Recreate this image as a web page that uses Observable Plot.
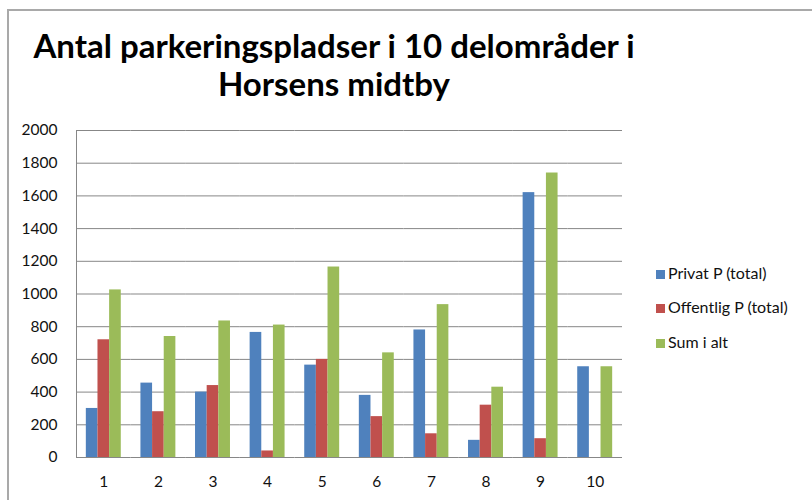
<!DOCTYPE html>
<html>
<head>
<meta charset="utf-8">
<script src="https://cdn.jsdelivr.net/npm/d3@7"></script>
<script src="https://cdn.jsdelivr.net/npm/@observablehq/plot@0.6"></script>
<style>
  html, body { margin: 0; padding: 0; background: #fff; }
  #wrap { position: relative; width: 812px; height: 500px; overflow: hidden; font-family: Lato, "Open Sans", sans-serif; }
  #frame { position: absolute; left: 7px; top: 9px; width: 900px; height: 600px; border: 2px solid #a9a9a9; box-sizing: border-box; }
  #title { position: absolute; left: 0; width: 668px; top: 26px; text-align: center; font-weight: bold; font-size: 33px; line-height: 38px; color: #000; }
  #chart { position: absolute; left: 0; top: 110px; }
  #legend { position: absolute; left: 656px; top: 0; }
  .item { position: absolute; left: 0; white-space: nowrap; font-size: 16px; color: #111; height: 20px; line-height: 20px; }
  .sw { display: inline-block; width: 9px; height: 9px; margin-right: 3px; vertical-align: 0px; }
</style>
</head>
<body>
<div id="wrap">
  <div id="frame"></div>
  <div id="title">Antal parkeringspladser i 10 delområder i<br>Horsens midtby</div>
  <div id="chart"></div>
  <div id="legend"></div>
</div>
<script>
const areas = ["1", "2", "3", "4", "5", "6", "7", "8", "9", "10"];
const privat = [300, 455, 400, 765, 565, 380, 780, 105, 1620, 555];
const offentlig = [720, 280, 440, 40, 600, 250, 145, 320, 115, 0];
const sumIAlt = [1025, 740, 835, 810, 1165, 640, 935, 430, 1740, 555];
const seriesNames = ["Privat P (total)", "Offentlig P (total)", "Sum i alt"];
const seriesColors = ["#4F81BD", "#C0504D", "#9BBB59"];
const yTicks = [0, 200, 400, 600, 800, 1000, 1200, 1400, 1600, 1800, 2000];

const seriesValues = [privat, offentlig, sumIAlt];
const data = areas.flatMap((a, i) => seriesNames.map((s, j) => ({area: a, series: s, value: seriesValues[j][i]})));

const chart = Plot.plot({
  width: 812,
  height: 390,
  marginTop: 20,
  marginBottom: 43,
  marginLeft: 76,
  marginRight: 190,
  style: {fontFamily: "Lato, 'Open Sans', sans-serif", fontSize: "15.5px", color: "#111", background: "transparent"},
  fx: {domain: areas, padding: 0, round: false, label: null, axis: "bottom", tickSize: 0, tickPadding: 18},
  x: {domain: seriesNames, axis: null, round: false, paddingInner: 0, paddingOuter: 0.84375},
  y: {domain: [0, 2000], axis: null},
  color: {domain: seriesNames, range: seriesColors},
  marks: [
    Plot.ruleY(yTicks, {stroke: "#878787", strokeWidth: 1}),
    Plot.frame({anchor: "left", stroke: "#878787", facetAnchor: "left"}),
    Plot.barY(data, {fx: "area", x: "series", y: "value", fill: "series"}),
    Plot.axisY(yTicks, {tickSize: 0, tickPadding: 19, label: null, fill: "#111", tickFormat: d3.format("d")})
  ]
});
document.getElementById("chart").appendChild(chart);

const legend = document.getElementById("legend");
const rowCenters = [273, 307, 342];
seriesNames.forEach((s, i) => {
  const d = document.createElement("div");
  d.className = "item";
  d.style.top = (rowCenters[i] - 10) + "px";
  const sw = document.createElement("span");
  sw.className = "sw";
  sw.style.background = seriesColors[i];
  d.appendChild(sw);
  d.appendChild(document.createTextNode(s));
  legend.appendChild(d);
});
</script>
</body>
</html>
